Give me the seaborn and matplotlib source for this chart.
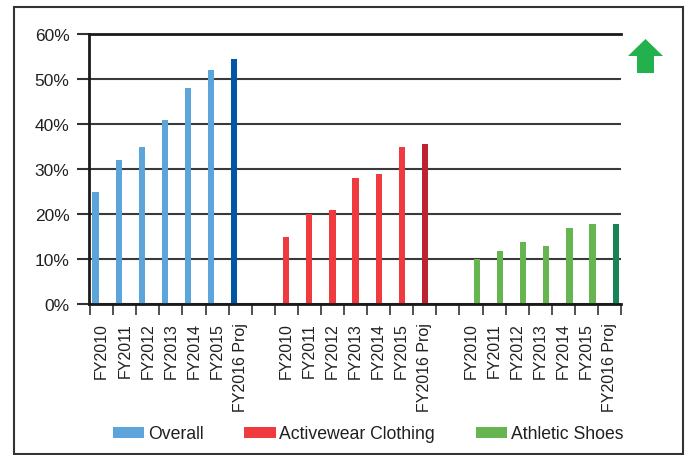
import pandas as pd
import matplotlib
matplotlib.use("Agg")
import matplotlib.pyplot as plt
from matplotlib.patches import Patch, Polygon, Rectangle
from matplotlib.ticker import FixedLocator, PercentFormatter
from matplotlib import font_manager
import seaborn as sns

# Data (percent)
series_names = ["Overall", "Activewear Clothing", "Athletic Shoes"]
years = ["FY2010", "FY2011", "FY2012", "FY2013", "FY2014", "FY2015", "FY2016 Proj"]
overall = [25, 32, 35, 41, 48, 52, 54.5]
activewear = [15, 20, 21, 28, 29, 35, 35.5]
athletic_shoes = [10, 11.8, 13.8, 12.9, 16.9, 17.8, 17.8]

light_colors = ["#5ba5db", "#ef3b3f", "#67b550"]
dark_colors = ["#0057a6", "#bb2430", "#168457"]
text_color = "#231f20"

# one empty slot between the groups, as in the original Excel chart
group_start = [0, 8, 16]
n_slots = 23

rows = []
for name, start, values in zip(series_names, group_start, [overall, activewear, athletic_shoes]):
    for i, (yr, v) in enumerate(zip(years, values)):
        rows.append({"slot": start + i, "year": yr, "value": v, "series": name})
df = pd.DataFrame(rows)

slot_labels = [""] * n_slots
for start in group_start:
    for i, yr in enumerate(years):
        slot_labels[start + i] = yr
proj_slots = [start + len(years) - 1 for start in group_start]

sns.set_theme(style="white")
plt.rcParams["font.family"] = ["Liberation Sans", "DejaVu Sans"]
plt.rcParams["text.color"] = text_color

# legend text is a condensed face in the original
installed = {f.name for f in font_manager.fontManager.ttflist}
legend_family = "Liberation Sans Narrow" if "Liberation Sans Narrow" in installed else "Liberation Sans"
legend_size = 15 if legend_family == "Liberation Sans Narrow" else 12.7

fig = plt.figure(figsize=(6.88, 4.56), dpi=100)
ax = fig.add_axes([89 / 688, 1 - 305 / 456, 532 / 688, 270 / 456])

# dodge=True keeps the Excel-style offset of each series inside its slot
sns.barplot(data=df, x="slot", y="value", hue="series", order=list(range(n_slots)),
            hue_order=series_names, palette=light_colors, width=0.8, dodge=True,
            saturation=1, errorbar=None, ax=ax, legend=False)

# projected year bars are drawn darker
for k, cont in enumerate(ax.containers):
    for bar in cont:
        slot = int(round(bar.get_x() + bar.get_width() / 2))
        if slot in proj_slots:
            bar.set_facecolor(dark_colors[k])
        bar.set_edgecolor("none")

ax.set_xlim(-0.55, n_slots - 0.5)
ax.set_ylim(0, 60)
ax.yaxis.set_major_locator(FixedLocator(range(0, 61, 10)))
ax.yaxis.set_major_formatter(PercentFormatter(decimals=0))
ax.set_xticks(range(n_slots))
ax.set_xticklabels(slot_labels, rotation=90, fontsize=11.5, color=text_color)
ax.xaxis.set_minor_locator(FixedLocator([i - 0.5 for i in range(n_slots + 1)]))
ax.tick_params(axis="x", which="major", length=0, pad=13)
ax.tick_params(axis="x", which="minor", length=8, width=1.2, color="#333333", direction="out", bottom=True)
ax.tick_params(axis="y", which="major", length=9, width=1.5, color="#333333", direction="out",
               left=True, labelsize=12.5, labelcolor=text_color, pad=5)
ax.set_xlabel("")
ax.set_ylabel("")

ax.grid(axis="y", color="#3a3a3a", linewidth=1.5)
ax.set_axisbelow(True)
for side in ["left", "bottom", "top"]:
    ax.spines[side].set_visible(True)
    ax.spines[side].set_color("#1a1a1a")
    ax.spines[side].set_linewidth(2.0)
ax.spines["right"].set_visible(False)

handles = [Patch(facecolor=c, edgecolor="none") for c in light_colors]
fig.legend(handles, series_names, loc="center", bbox_to_anchor=(368 / 688, 1 - 435 / 456),
           ncol=3, frameon=False, prop={"family": legend_family, "size": legend_size},
           handlelength=1.8, handleheight=0.57, handletextpad=0.2, columnspacing=2.3)

# green "up" arrow at the top right
arrow_px = [(628, 57), (645.5, 40), (663, 57), (654, 57), (654, 74), (637, 74), (637, 57)]
fig.patches.append(Polygon([(x / 688, 1 - y / 456) for x, y in arrow_px], closed=True,
                           facecolor="#22b14c", edgecolor="none", transform=fig.transFigure))

# frame around the whole figure
fig.patches.append(Rectangle((14 / 688, 1 - 455 / 456), 669 / 688, 447 / 456, fill=False,
                             edgecolor="#333333", linewidth=1.5, transform=fig.transFigure))

fig.savefig("out.png", dpi=100)
